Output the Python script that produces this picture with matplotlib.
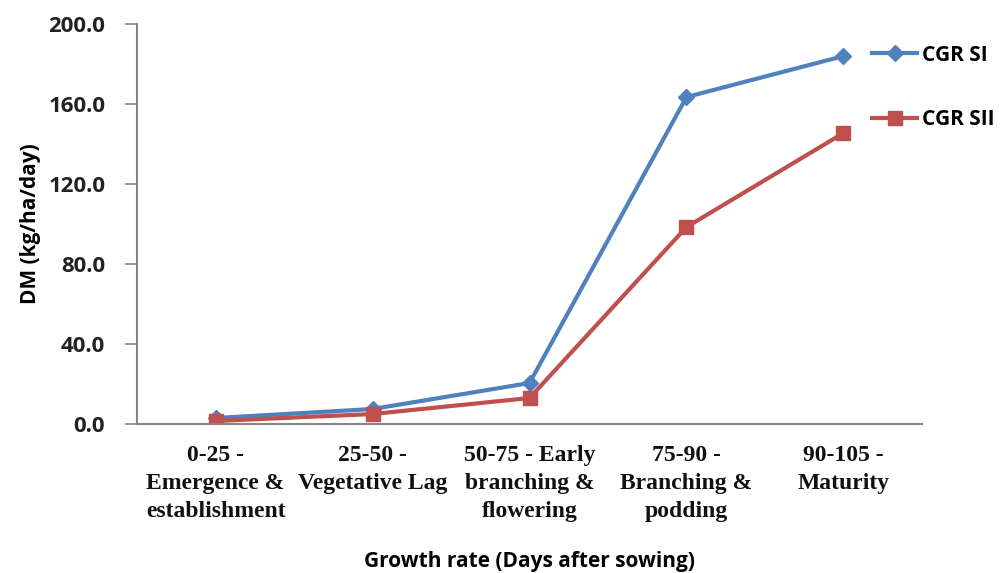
import matplotlib.pyplot as plt

stages = [
    "0-25 -\nEmergence &\nestablishment",
    "25-50 -\nVegetative Lag",
    "50-75 - Early\nbranching &\nflowering",
    "75-90 -\nBranching &\npodding",
    "90-105 -\nMaturity",
]
cgr_si = [3.0, 7.5, 20.5, 163.5, 184.0]
cgr_sii = [1.5, 5.0, 13.0, 98.5, 145.5]
y_ticks = [0, 40, 80, 120, 160, 200]

_BLUE = "#4F81BD"
_RED = "#C0504D"
_AXIS = "#868686"
_SANS = ["Open Sans", "DejaVu Sans"]
_SERIF = ["Liberation Serif", "DejaVu Serif"]

fig = plt.figure(figsize=(10.01, 5.73), dpi=100)
ax = fig.add_axes([0.137, 0.26, 0.784, 0.698])

x = list(range(len(stages)))
ax.plot(x, cgr_si, color=_BLUE, linewidth=3, marker="D", markersize=8, label="CGR SI")
ax.plot(x, cgr_sii, color=_RED, linewidth=3, marker="s", markersize=10, label="CGR SII")

ax.set_xlim(-0.5, len(stages) - 0.5)
ax.set_ylim(0, 200)
ax.set_yticks(y_ticks)
ax.set_yticklabels([f"{v:.1f}" for v in y_ticks], family=_SANS, fontsize=16,
                   fontweight="bold", color="#222222")
ax.set_xticks(x)
ax.set_xticklabels(stages, family=_SERIF, fontsize=17, fontweight="bold",
                   linespacing=1.45, color="#111111")
ax.tick_params(axis="y", direction="out", length=9, width=1.2, color=_AXIS, pad=14)
ax.tick_params(axis="x", length=0, pad=15)

for side in ("top", "right"):
    ax.spines[side].set_visible(False)
for side in ("left", "bottom"):
    ax.spines[side].set_color(_AXIS)
    ax.spines[side].set_linewidth(1.5)

ax.set_ylabel("DM (kg/ha/day)", family=_SANS, fontsize=15, fontweight="bold", labelpad=5)
ax.set_xlabel("Growth rate (Days after sowing)", family=_SANS, fontsize=15,
              fontweight="bold", labelpad=21)

ax.legend(loc="upper left", bbox_to_anchor=(0.852, 0.955), bbox_transform=fig.transFigure,
          frameon=False, prop={"family": _SANS, "size": 15, "weight": "bold"},
          labelspacing=2.1, handlelength=2.2, handletextpad=0.2)

fig.savefig("out.png", dpi=100)
